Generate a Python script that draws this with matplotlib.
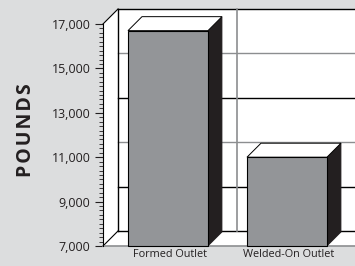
import matplotlib
matplotlib.use('Agg')
import matplotlib.pyplot as plt
from matplotlib.patches import Polygon, Rectangle
from matplotlib.ticker import MultipleLocator

plt.rcParams['font.family'] = ['Open Sans', 'DejaVu Sans']

categories = ['Formed Outlet', 'Welded-On Outlet']
pounds = [16700, 11000]
y_ticks = [7000, 9000, 11000, 13000, 15000, 17000]
grid_dark = [True, True, False, True, False, True]
y_min, y_max = 7000, 17000

bg = '#dcddde'
face = '#939598'
side = '#231f20'
gray = '#8c8e90'

fig = plt.figure(figsize=(3.55, 2.66), dpi=100, facecolor=bg)
ax = fig.add_axes([103/355, 20/266, 252/355, 222/266])
ax.set_facecolor('none')
ax.set_xlim(-0.5, -0.5 + 252/119)
ax.set_ylim(y_min, y_max)

# depth of the fake 3d, in data units
px_x = 1/119
px_y = (y_max - y_min) / 222
dx, dy = 15*px_x, 15*px_y
bdx, bdy = 14*px_x, 14*px_y
x0, x1 = ax.get_xlim()
xr = x1 + 1

# back wall
ax.add_patch(Rectangle((x0+dx, y_min+dy), xr - x0, y_max - y_min, fc='white',
                       ec='none', clip_on=False, zorder=1))
# left wall
ax.add_patch(Polygon([(x0, y_min), (x0+dx, y_min+dy), (x0+dx, y_max+dy), (x0, y_max)],
                     closed=True, fc='white', ec='none', clip_on=False, zorder=1))
# floor
ax.add_patch(Polygon([(x0, y_min), (x0+dx, y_min+dy), (xr, y_min+dy), (xr, y_min)],
                     closed=True, fc='white', ec='none', clip_on=False, zorder=1))

for t, dark in zip(y_ticks, grid_dark):
    ax.plot([x0+dx, xr], [t+dy, t+dy], color='black' if dark else gray,
            lw=1, clip_on=False, zorder=2)
ax.plot([x0+dx, x0+dx], [y_min+dy, y_max+dy], color='black', lw=1, clip_on=False, zorder=2)
ax.plot([0.5+dx, 0.5+dx], [y_min+dy, y_max+dy], color=gray, lw=1.2, clip_on=False, zorder=2)
ax.plot([x0, x0+dx], [y_max, y_max+dy], color='black', lw=0.8, clip_on=False, zorder=2)
ax.plot([x0, x0+dx], [y_min, y_min+dy], color='black', lw=0.8, clip_on=False, zorder=2)
ax.plot([x0, xr], [y_min, y_min], color=gray, lw=1.2, clip_on=False, zorder=2)

# bars
w = 0.672
for i, v in enumerate(pounds):
    left = i - 0.29
    right = left + w
    ax.add_patch(Polygon([(right, y_min), (right+bdx, y_min+bdy), (right+bdx, v+bdy), (right, v)],
                         closed=True, fc=side, ec=side, lw=0.6, clip_on=False, zorder=3))
    ax.add_patch(Polygon([(left, v), (left+bdx, v+bdy), (right+bdx, v+bdy), (right, v)],
                         closed=True, fc='white', ec='black', lw=0.7, clip_on=False, zorder=3))
    ax.add_patch(Rectangle((left, y_min), w, v - y_min, fc=face, ec='black', lw=0.8,
                           clip_on=False, zorder=4))

for s in ['top', 'right', 'bottom']:
    ax.spines[s].set_visible(False)
ax.spines['left'].set_color('black')
ax.spines['left'].set_linewidth(0.8)
ax.spines['left'].set_zorder(5)

ax.set_yticks(y_ticks)
ax.set_yticklabels([f'{t:,}' for t in y_ticks], fontsize=9)
ax.yaxis.set_minor_locator(MultipleLocator(200))
ax.tick_params(axis='y', which='major', direction='out', length=6, width=0.8, pad=3, colors='#231f20')
ax.tick_params(axis='y', which='minor', direction='out', length=3, width=0.6, colors='#231f20')

ax.set_xticks([i + 0.06 for i in range(len(categories))])
ax.set_xticklabels(categories, fontsize=7.8, color='#231f20')
ax.tick_params(axis='x', length=0, pad=2)

fig.text(26/355, 1 - 130/266, '\u200a'.join('POUNDS'), rotation=90, fontsize=14,
         fontweight='bold', ha='center', va='center', color='#231f20')

plt.savefig('out.png', dpi=100, facecolor=bg)
